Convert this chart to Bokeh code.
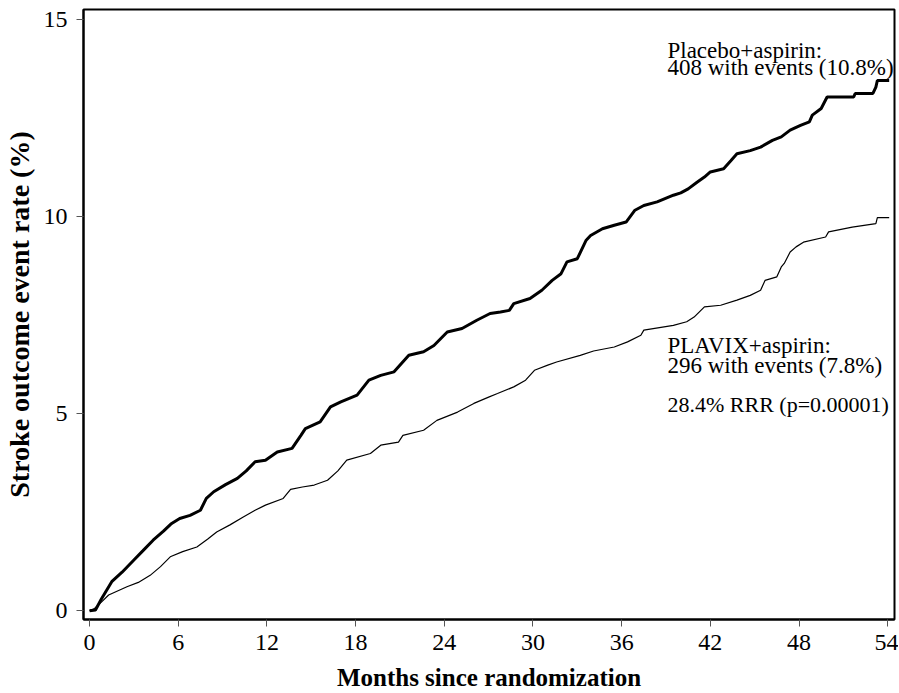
from bokeh.plotting import figure
from bokeh.models import Range1d, FixedTicker
from bokeh.core.properties import value
from bokeh.embed import file_html
from bokeh.resources import INLINE

# ---- data ----
placebo_months = [0, 0.4, 0.8, 1.5, 2.2, 3.0, 3.6, 4.3, 5.0, 5.5, 6.1, 6.8, 7.5, 7.9, 8.4, 9.2,
                  10.0, 10.6, 11.2, 11.9, 12.7, 13.7, 14.3, 14.6, 15.6, 16.3, 17.0, 18.1, 18.9,
                  19.7, 20.6, 21.6, 22.6, 23.3, 24.2, 25.2, 26.2, 27.1, 27.8, 28.4, 28.7, 29.8,
                  30.6, 31.3, 31.9, 32.3, 33.0, 33.6, 33.9, 34.7, 35.5, 36.3, 36.9, 37.5, 38.4,
                  39.5, 40.0, 40.5, 41.1, 41.6, 42.0, 42.9, 43.4, 43.8, 44.7, 45.4, 46.2, 46.8,
                  47.4, 48.1, 48.7, 48.9, 49.5, 49.9, 51.7, 51.8, 53.0, 53.2, 53.3, 54.1]
placebo_rate = [0, 0.02, 0.3, 0.74, 0.98, 1.29, 1.52, 1.79, 2.02, 2.2, 2.34, 2.42, 2.55, 2.85,
                3.02, 3.2, 3.36, 3.55, 3.78, 3.82, 4.03, 4.12, 4.45, 4.62, 4.79, 5.17, 5.30, 5.47,
                5.85, 5.97, 6.06, 6.48, 6.57, 6.73, 7.07, 7.16, 7.37, 7.54, 7.58, 7.62, 7.79, 7.92,
                8.13, 8.38, 8.55, 8.85, 8.93, 9.40, 9.52, 9.69, 9.78, 9.86, 10.16, 10.28, 10.37,
                10.54, 10.6, 10.7, 10.87, 11.0, 11.13, 11.21, 11.42, 11.59, 11.67, 11.76, 11.93,
                12.02, 12.19, 12.31, 12.40, 12.57, 12.74, 13.03, 13.03, 13.12, 13.12, 13.28,
                13.45, 13.45]

plavix_months = [0, 0.3, 0.8, 1.29, 2.53, 3.3, 4.1, 4.8, 5.46, 6.3, 7.26, 8.0, 8.6, 9.5, 10.4,
                 11.2, 11.9, 13.1, 13.6, 14.4, 15.2, 16.1, 16.8, 17.4, 19.0, 19.7, 20.9, 21.2,
                 22.6, 23.5, 24.9, 26.0, 27.0, 27.6, 28.7, 29.5, 30.1, 31.0, 31.6, 33.2, 34.1,
                 35.5, 36.4, 37.3, 37.5, 39.5, 40.4, 40.9, 41.6, 42.7, 43.8, 44.7, 45.4, 45.7,
                 46.5, 46.8, 47.0, 47.4, 47.8, 48.3, 49.8, 50.0, 51.6, 53.2, 53.3, 54.1]
plavix_rate = [0, 0.05, 0.22, 0.40, 0.61, 0.72, 0.90, 1.12, 1.37, 1.50, 1.62, 1.82, 2.0, 2.18,
               2.38, 2.55, 2.68, 2.85, 3.08, 3.14, 3.19, 3.31, 3.55, 3.82, 3.99, 4.20, 4.28, 4.45,
               4.58, 4.83, 5.04, 5.26, 5.42, 5.51, 5.68, 5.85, 6.10, 6.23, 6.31, 6.48, 6.59, 6.69,
               6.82, 6.99, 7.12, 7.24, 7.33, 7.45, 7.71, 7.75, 7.88, 8.00, 8.13, 8.38, 8.47, 8.72,
               8.81, 9.10, 9.23, 9.35, 9.48, 9.61, 9.73, 9.82, 9.97, 9.97]

x_ticks = [0, 6, 12, 18, 24, 30, 36, 42, 48, 54]
y_ticks = [0, 5, 10, 15]

x_title = "Months since randomization"
y_title = "Stroke outcome event rate (%)"
placebo_lines = ["Placebo+aspirin:", "408 with events (10.8%)"]
plavix_lines = ["PLAVIX+aspirin:", "296 with events (7.8%)"]
rrr_text = "28.4% RRR (p=0.00001)"

FONT = "Liberation Serif"

p = figure(width=898, height=693, output_backend="svg", toolbar_location=None,
           x_range=Range1d(-0.41, 54.46), y_range=Range1d(-0.22, 15.25),
           min_border_left=83, min_border_right=4, min_border_top=9, min_border_bottom=74,
           background_fill_color="white", border_fill_color="white")
p.xgrid.visible = False
p.ygrid.visible = False
p.outline_line_color = "black"
p.outline_line_width = 2

p.xaxis.ticker = FixedTicker(ticks=x_ticks)
p.yaxis.ticker = FixedTicker(ticks=y_ticks)
for ax in (p.xaxis, p.yaxis):
    ax.axis_line_width = 2
    ax.axis_line_color = "black"
    ax.major_tick_in = 0
    ax.major_tick_out = 7
    ax.major_tick_line_color = "#555555"
    ax.minor_tick_out = 0
    ax.minor_tick_in = 0
    ax.major_label_text_font = FONT
    ax.major_label_text_font_size = "24px"
    ax.major_label_text_color = "black"
    ax.axis_label_text_font = FONT
    ax.axis_label_text_font_style = "bold"
    ax.axis_label_text_color = "black"
    ax.axis_label_text_line_height = 1.0

p.xaxis.axis_label = x_title
p.xaxis.axis_label_text_font_size = "25px"
p.xaxis.axis_label_standoff = 11
p.xaxis.major_label_standoff = 8

p.yaxis.axis_label = y_title
p.yaxis.axis_label_text_font_size = "28px"
p.yaxis.axis_label_standoff = 6
p.yaxis.major_label_standoff = 9

p.line(plavix_months, plavix_rate, line_color="black", line_width=1.2)
p.line(placebo_months, placebo_rate, line_color="black", line_width=3)

common = dict(text_font=value(FONT), text_color="black",
              text_baseline="alphabetic", text_align="left")
p.text(x=[39.1, 39.1], y=[14.22, 13.78], text=placebo_lines, text_font_size="23px", **common)
p.text(x=[39.1, 39.1], y=[6.72, 6.23], text=plavix_lines, text_font_size="23px", **common)
p.text(x=[39.1], y=[5.24], text=[rrr_text], text_font_size="22px", **common)

open("out.html", "w").write(file_html(p, INLINE))
